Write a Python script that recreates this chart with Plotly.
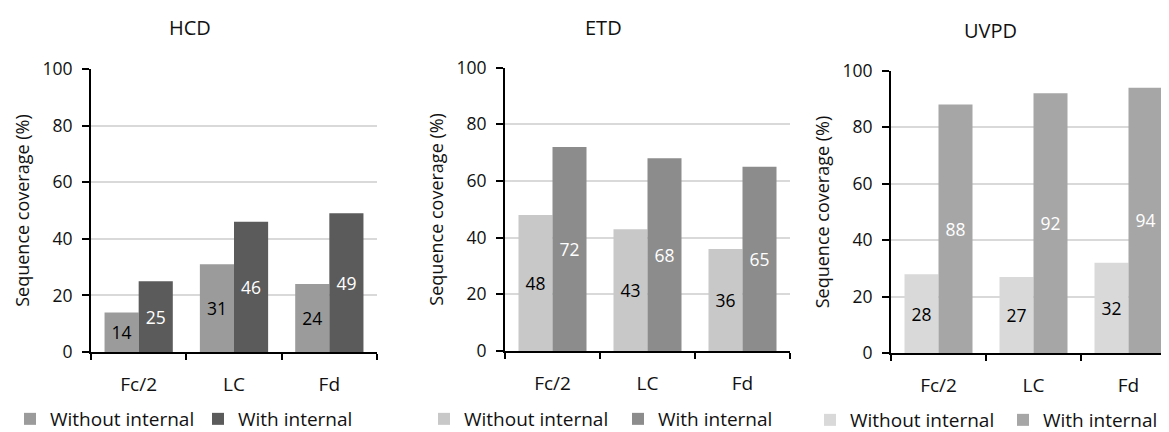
import plotly.graph_objects as go

# Browser page has an 8px body margin; the figure fills the rest of the 1169x432 view.
PAGE_OFF = 8
W, H = 1169 - PAGE_OFF, 432 - PAGE_OFF

categories = ["Fc/2", "LC", "Fd"]
panel_titles = ["HCD", "ETD", "UVPD"]
series_names = ["Without internal", "With internal"]

hcd_without = [14, 31, 24]
hcd_with = [25, 46, 49]
etd_without = [48, 43, 36]
etd_with = [72, 68, 65]
uvpd_without = [28, 27, 32]
uvpd_with = [88, 92, 94]

y_ticks = [0, 20, 40, 60, 80, 100]

FONT = "Open Sans"
TXT = "#111111"


def fx(sx):
    return (sx - PAGE_OFF) / W


def fy(sy):
    return 1 - (sy - PAGE_OFF) / H


panels = [
    dict(title=panel_titles[0], without=hcd_without, withv=hcd_with,
         colors=("#9b9b9b", "#5b5b5b"),
         px=(91, 377), py=(69, 352), xr_end=2.5, title_x=190, title_y=28,
         leg_x=10, leg_y=419, leg_w=143),
    dict(title=panel_titles[1], without=etd_without, withv=etd_with,
         colors=("#c8c8c8", "#8c8c8c"),
         px=(505, 790), py=(67.7, 351), xr_end=2.5, title_x=603, title_y=28,
         leg_x=424, leg_y=419, leg_w=149),
    dict(title=panel_titles[2], without=uvpd_without, withv=uvpd_with,
         colors=("#d9d9d9", "#a6a6a6"),
         px=(891, 1169), py=(70.7, 353.3), xr_end=2.5 - 7 / 95, title_x=990, title_y=30,
         leg_x=810, leg_y=420, leg_w=148),
]

fig = go.Figure()
annotations = []
for i, p in enumerate(panels):
    n = "" if i == 0 else str(i + 1)
    xa, ya = "x" + n, "y" + n
    leg = "legend" + n
    for name, vals, col, tcol in [
        (series_names[0], p["without"], p["colors"][0], "#000000"),
        (series_names[1], p["withv"], p["colors"][1], "#ffffff"),
    ]:
        fig.add_trace(go.Bar(
            x=categories, y=vals, name=name, marker=dict(color=col, line=dict(width=0)),
            text=[str(v) for v in vals], textposition="inside", insidetextanchor="middle",
            textangle=0, constraintext="none",
            textfont=dict(family=FONT, size=17.5, color=tcol),
            xaxis=xa, yaxis=ya, legend=leg, showlegend=True,
        ))
    x0, x1 = p["px"]
    ytop, ybot = p["py"]
    fig.layout["xaxis" + n] = dict(
        domain=[fx(x0), min(1.0, fx(x1))], anchor=ya, type="category",
        range=[-0.5, p["xr_end"]], tickson="boundaries", ticks="outside",
        ticklen=6, tickwidth=1.5, tickcolor="#000", showline=True, linecolor="#000",
        linewidth=2, showgrid=False, fixedrange=True, automargin=False,
        tickfont=dict(family=FONT, size=19, color=TXT), ticklabelstandoff=14,
    )
    fig.layout["yaxis" + n] = dict(
        domain=[fy(ybot), fy(ytop)], anchor=xa, range=[0, 100],
        tickvals=y_ticks, ticks="outside", ticklen=7, tickwidth=1.5, tickcolor="#000",
        showline=True, linecolor="#000", linewidth=2, showgrid=True,
        gridcolor="#d9d9d9", gridwidth=1.5, zeroline=False, fixedrange=True,
        automargin=False,
        tickfont=dict(family=FONT, size=17.5, color=TXT), ticklabelstandoff=6,
        title=dict(text="Sequence coverage (%)", font=dict(family=FONT, size=18, color=TXT),
                   standoff=8),
    )
    fig.layout[leg] = dict(
        orientation="h", x=fx(p["leg_x"]), xanchor="left", y=fy(p["leg_y"]),
        yanchor="middle", font=dict(family=FONT, size=19, color=TXT),
        bgcolor="rgba(0,0,0,0)", borderwidth=0, traceorder="normal",
        entrywidth=p["leg_w"], entrywidthmode="pixels", itemclick=False,
        itemdoubleclick=False,
    )
    annotations.append(dict(
        text=p["title"], x=fx(p["title_x"]), y=fy(p["title_y"]), xref="paper",
        yref="paper", xanchor="center", yanchor="middle", showarrow=False,
        font=dict(family=FONT, size=20, color=TXT),
    ))

fig.update_layout(
    width=W, height=H, margin=dict(l=0, r=0, t=0, b=0, autoexpand=False),
    paper_bgcolor="white", plot_bgcolor="white",
    barmode="group", bargap=0.284, bargroupgap=0,
    annotations=annotations, font=dict(family=FONT, color=TXT),
)

fig.write_html("out.html")
